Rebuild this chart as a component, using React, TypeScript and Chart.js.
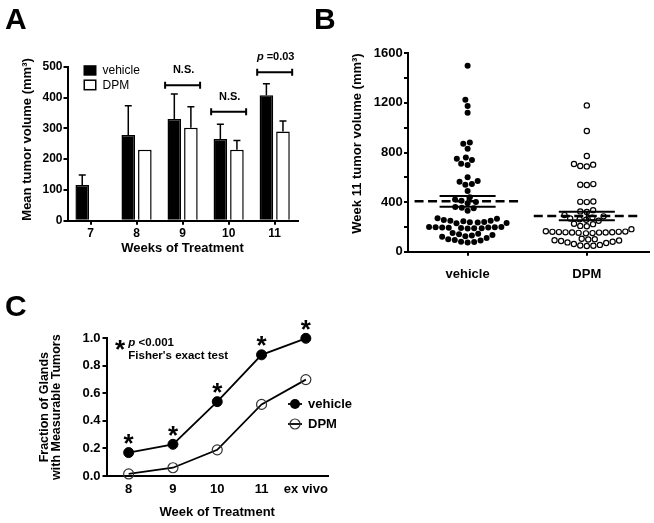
import React, { useEffect, useRef } from "react";
import { Chart, registerables } from "chart.js";

Chart.register(...registerables);

const FONT = "'Liberation Sans', Arial, Helvetica, sans-serif";
Chart.defaults.font.family = FONT;
Chart.defaults.color = "#000";
const black = "#000";

// ---------------- Panel A data ----------------
const weeksA = ["7", "8", "9", "10", "11"];
const seriesNames = ["vehicle", "DPM"];
const vehicleMeanA = [116, 278, 330, 265, 407];
const dpmMeanA = [null, 230, 302, 230, 290];
const vehicleSemA = [32, 95, 81, 48, 38];
const dpmSemA = [null, null, 68, 30, 34];
const sigWeeksA = ["9", "10", "11"];
const sigItalicA = ["", "", "p"];
const sigTextA = ["N.S.", "N.S.", " =0.03"];
const sigBracketYA = [440, 354, 482];

// ---------------- Panel B data ----------------
const groupsB = ["vehicle", "DPM"];
const vehicleWeek11 = [
  1500, 1225, 1175, 1120, 880, 870, 830, 760, 750, 740, 710, 700, 600, 570, 565, 545,
  540, 490, 440, 420, 410, 400, 390, 360, 355, 350, 330, 270, 265, 255, 250, 250, 245,
  240, 238, 235, 232, 230, 200, 200, 198, 197, 195, 195, 193, 192, 190, 190, 188, 150,
  145, 140, 135, 130, 125, 120, 110, 100, 95, 90, 80, 78, 75,
];
const dpmWeek11 = [
  1180, 973, 772, 707, 702, 691, 688, 545, 540, 538, 405, 402, 400, 335, 325, 320, 295,
  285, 275, 268, 262, 258, 250, 225, 222, 208, 205, 182, 165, 162, 160, 160, 158, 157,
  156, 155, 155, 154, 152, 150, 148, 105, 100, 98, 92, 90, 86, 80, 75, 70, 62, 55, 50,
  48, 46,
];
const meanB = [406, 288];
const semB = [43, 34];

// ---------------- Panel C data ----------------
const weeksC = ["8", "9", "10", "11", "ex vivo"];
const vehicleFracC = [0.17, 0.23, 0.54, 0.88, 1.0];
const dpmFracC = [0.015, 0.06, 0.19, 0.52, 0.7];
const noteStarC = "p";
const noteTextC = " <0.001";
const noteTestC = "Fisher's exact test";

function axisStyle(tickLength: number, drawTicks = true) {
  return {
    grid: {
      display: true,
      drawOnChartArea: false,
      drawTicks,
      tickLength,
      color: black,
      lineWidth: 2,
      offset: false,
    },
    border: { display: true, color: black, width: 2 },
  };
}

function drawParts(
  ctx: CanvasRenderingContext2D,
  italic: string,
  rest: string,
  x: number,
  y: number,
  size: number,
  align: "left" | "center"
) {
  const fi = `italic bold ${size}px ${FONT}`;
  const fn = `bold ${size}px ${FONT}`;
  ctx.font = fi;
  const wi = italic ? ctx.measureText(italic).width : 0;
  ctx.font = fn;
  const wr = ctx.measureText(rest).width;
  let sx = align === "center" ? x - (wi + wr) / 2 : x;
  ctx.textAlign = "left";
  ctx.textBaseline = "middle";
  if (italic) {
    ctx.font = fi;
    ctx.fillText(italic, sx, y);
    sx += wi;
  }
  ctx.font = fn;
  ctx.fillText(rest, sx, y);
}

function drawStar(ctx: CanvasRenderingContext2D, x: number, y: number) {
  const size = 26;
  ctx.font = `bold ${size}px ${FONT}`;
  ctx.textAlign = "center";
  ctx.textBaseline = "alphabetic";
  ctx.fillText("*", x, y + 0.585 * size);
}

// ---------------- Panel A ----------------
function makeA(canvas: HTMLCanvasElement) {
  const errPlugin = {
    id: "errA",
    afterDatasetsDraw(chart: any) {
      const ctx = chart.ctx;
      const y = chart.scales.y;
      [vehicleSemA, dpmSemA].forEach((sems, di) => {
        const meta = chart.getDatasetMeta(di);
        meta.data.forEach((bar: any, i: number) => {
          const v = chart.data.datasets[di].data[i];
          const e = sems[i];
          if (v == null || e == null) return;
          const yTop = y.getPixelForValue(v + e);
          const yBase = y.getPixelForValue(v);
          ctx.save();
          ctx.strokeStyle = black;
          ctx.lineWidth = 1.5;
          ctx.beginPath();
          ctx.moveTo(bar.x, yBase);
          ctx.lineTo(bar.x, yTop);
          ctx.moveTo(bar.x - 3.5, yTop);
          ctx.lineTo(bar.x + 3.5, yTop);
          ctx.stroke();
          ctx.restore();
        });
      });
    },
  };
  const annPlugin = {
    id: "annA",
    afterDraw(chart: any) {
      const { ctx, chartArea: ca } = chart;
      const x = chart.scales.x;
      const y = chart.scales.y;
      const catW = x.width / weeksA.length;
      ctx.save();
      ctx.strokeStyle = black;
      ctx.fillStyle = black;
      sigWeeksA.forEach((wk, k) => {
        const i = weeksA.indexOf(wk);
        const cx = x.getPixelForValue(i);
        const by = y.getPixelForValue(sigBracketYA[k]);
        const half = catW * 0.38;
        ctx.lineWidth = 2;
        ctx.beginPath();
        ctx.moveTo(cx - half, by);
        ctx.lineTo(cx + half, by);
        ctx.moveTo(cx - half, by - 3.5);
        ctx.lineTo(cx - half, by + 3.5);
        ctx.moveTo(cx + half, by - 3.5);
        ctx.lineTo(cx + half, by + 3.5);
        ctx.stroke();
        drawParts(ctx, sigItalicA[k], sigTextA[k], cx + 1, by - 15, 11, "center");
      });
      // legend
      const lx = ca.left + 16;
      ctx.fillStyle = black;
      ctx.fillRect(lx, ca.top - 1.5, 13, 10.5);
      ctx.fillStyle = "#fff";
      ctx.fillRect(lx + 0.75, ca.top + 13.5, 11.5, 9.5);
      ctx.lineWidth = 1.5;
      ctx.strokeRect(lx + 0.75, ca.top + 13.5, 11.5, 9.5);
      ctx.fillStyle = black;
      ctx.font = `12px ${FONT}`;
      ctx.textAlign = "left";
      ctx.textBaseline = "middle";
      ctx.fillText(seriesNames[0], ca.left + 35, ca.top + 4);
      ctx.fillText(seriesNames[1], ca.left + 35, ca.top + 19);
      ctx.restore();
    },
  };
  return new Chart(canvas, {
    type: "bar",
    data: {
      labels: weeksA,
      datasets: [
        {
          label: seriesNames[0],
          data: vehicleMeanA,
          backgroundColor: black,
          borderColor: black,
          borderWidth: 1.5,
          categoryPercentage: 0.72,
          barPercentage: 0.82,
        },
        {
          label: seriesNames[1],
          data: dpmMeanA,
          backgroundColor: "#fff",
          borderColor: black,
          borderWidth: 1.5,
          categoryPercentage: 0.72,
          barPercentage: 0.82,
        },
      ],
    },
    options: {
      responsive: false,
      animation: false,
      devicePixelRatio: 1,
      layout: { padding: { left: 0, top: 66.7, right: 32.3, bottom: 0 } },
      plugins: { legend: { display: false }, tooltip: { enabled: false } },
      scales: {
        x: {
          ...axisStyle(4),
          ticks: {
            color: black,
            font: { size: 12, weight: "bold" },
            padding: 1.5,
            maxRotation: 0,
            autoSkip: false,
          },
          title: {
            display: true,
            text: "Weeks of Treatment",
            color: black,
            font: { size: 13, weight: "bold" },
            padding: { top: 0, bottom: 23.9 },
          },
          afterFit: (s: any) => {
            s.height = 59.3;
          },
        },
        y: {
          min: 0,
          max: 500,
          ...axisStyle(4),
          ticks: { stepSize: 100, color: black, font: { size: 12, weight: "bold" }, padding: 1 },
          title: {
            display: true,
            text: "Mean tumor volume (mm³)",
            align: "start",
            color: black,
            font: { size: 13, weight: "bold" },
            padding: { top: 19.2, bottom: 0 },
          },
          afterFit: (s: any) => {
            s.width = 67.5;
          },
        },
      },
    } as any,
    plugins: [errPlugin, annPlugin],
  } as any);
}

// ---------------- Panel B ----------------
const B_W = 324;
const B_H = 290;
const B_YW = 78;
const B_PR = 4;
const B_PT = 53.3;
const B_XH = 38.3;
const B_XMIN = 0.5;
const B_XMAX = 2.52;
const B_YMAX = 1600;

function swarm(values: number[], center: number, xppu: number, yppu: number, d: number) {
  const idx = values.map((_, i) => i).sort((a, b) => values[a] - values[b]);
  const placed: { x: number; y: number }[] = [];
  const out: { x: number; y: number }[] = [];
  let flip = 1;
  for (const i of idx) {
    const py = values[i] * yppu;
    const blocked: [number, number][] = [];
    for (const p of placed) {
      const dy = Math.abs(p.y - py);
      if (dy < d) {
        const w = Math.sqrt(d * d - dy * dy);
        blocked.push([p.x - w, p.x + w]);
      }
    }
    const cands = [0];
    for (const [a, b] of blocked) cands.push(a, b);
    const free = cands.filter((c) => !blocked.some(([a, b]) => c > a + 1e-6 && c < b - 1e-6));
    let best = Infinity;
    for (const c of free) {
      const ac = Math.abs(c);
      const ab = Math.abs(best);
      if (ac < ab - 1e-6 || (Math.abs(ac - ab) <= 1e-6 && Math.sign(c) === flip)) best = c;
    }
    if (Math.abs(best) > 1e-6) flip = -flip;
    placed.push({ x: best, y: py });
    out[i] = { x: center + best / xppu, y: values[i] };
  }
  return out;
}

function makeB(canvas: HTMLCanvasElement) {
  const xppu = (B_W - B_YW - B_PR) / (B_XMAX - B_XMIN);
  const yppu = (B_H - B_PT - B_XH) / B_YMAX;
  const lineDs = (data: { x: number; y: number }[], width: number, dash: number[] = []) => ({
    data,
    showLine: true,
    borderColor: black,
    borderWidth: width,
    borderDash: dash,
    pointRadius: 0,
    order: 0,
    clip: false,
  });
  const summary = groupsB.flatMap((_, gi) => {
    const c = gi + 1;
    const m = meanB[gi];
    const s = semB[gi];
    return [
      lineDs([{ x: c - 0.445, y: m }, { x: c + 0.445, y: m }], 2.5, [9, 4.5]),
      lineDs([{ x: c - 0.235, y: m + s }, { x: c + 0.235, y: m + s }], 2),
      lineDs([{ x: c - 0.235, y: m - s }, { x: c + 0.235, y: m - s }], 2),
      lineDs([{ x: c, y: m - s }, { x: c, y: m + s }], 2),
    ];
  });
  return new Chart(canvas, {
    type: "scatter",
    data: {
      datasets: [
        ...summary,
        {
          label: groupsB[0],
          data: swarm(vehicleWeek11, 1, xppu, yppu, 6.6),
          pointRadius: 3,
          pointBackgroundColor: black,
          pointBorderColor: black,
          pointBorderWidth: 0,
          order: 1,
          clip: false,
        },
        {
          label: groupsB[1],
          data: swarm(dpmWeek11, 2, xppu, yppu, 6.6),
          pointRadius: 2.6,
          pointBackgroundColor: "rgba(255,255,255,0)",
          pointBorderColor: black,
          pointBorderWidth: 1.2,
          order: 1,
          clip: false,
        },
      ],
    },
    options: {
      responsive: false,
      animation: false,
      devicePixelRatio: 1,
      layout: { padding: { left: 0, top: B_PT, right: B_PR, bottom: 0 } },
      plugins: { legend: { display: false }, tooltip: { enabled: false } },
      scales: {
        x: {
          type: "linear",
          min: B_XMIN,
          max: B_XMAX,
          ...axisStyle(4),
          afterBuildTicks: (s: any) => {
            s.ticks = groupsB.map((_, i) => ({ value: i + 1 }));
          },
          ticks: {
            color: black,
            font: { size: 13, weight: "bold" },
            padding: 11,
            maxRotation: 0,
            autoSkip: false,
            callback: (v: any) => groupsB[Math.round(v) - 1] ?? "",
          },
          afterFit: (s: any) => {
            s.height = B_XH;
          },
        },
        y: {
          min: 0,
          max: B_YMAX,
          ...axisStyle(4),
          ticks: {
            stepSize: 200,
            autoSkip: false,
            color: black,
            font: { size: 13, weight: "bold" },
            padding: 1.3,
            callback: (v: any) => (v % 400 === 0 ? String(v) : ""),
          },
          title: {
            display: true,
            text: "Week 11 tumor volume (mm³)",
            align: "end",
            color: black,
            font: { size: 13, weight: "bold" },
            padding: { top: 19.7, bottom: 0 },
          },
          afterFit: (s: any) => {
            s.width = B_YW;
          },
        },
      },
    } as any,
  } as any);
}

// ---------------- Panel C ----------------
function makeC(canvas: HTMLCanvasElement) {
  const annPlugin = {
    id: "annC",
    afterDatasetsDraw(chart: any) {
      const { ctx, chartArea: ca } = chart;
      ctx.save();
      ctx.fillStyle = black;
      ctx.strokeStyle = black;
      const meta = chart.getDatasetMeta(0);
      meta.data.forEach((pt: any) => drawStar(ctx, pt.x, pt.y - 16));
      drawStar(ctx, ca.left + 13.5, ca.top + 4.7);
      drawParts(ctx, noteStarC, noteTextC, ca.left + 21.8, ca.top + 5, 11.5, "left");
      ctx.font = `bold 11.5px ${FONT}`;
      ctx.textAlign = "left";
      ctx.textBaseline = "middle";
      ctx.fillText(noteTestC, ca.left + 21.8, ca.top + 17.7);
      // legend
      const lx = ca.left + 188.5;
      const ly = [ca.top + 65.7, ca.top + 85.7];
      ly.forEach((yy, k) => {
        ctx.lineWidth = 1.8;
        ctx.strokeStyle = black;
        ctx.beginPath();
        ctx.moveTo(lx - 7, yy);
        ctx.lineTo(lx + 7, yy);
        ctx.stroke();
        ctx.beginPath();
        ctx.arc(lx, yy, 5, 0, Math.PI * 2);
        if (k === 0) {
          ctx.fillStyle = black;
          ctx.fill();
        } else {
          ctx.lineWidth = 1.2;
          ctx.strokeStyle = "#333";
          ctx.stroke();
        }
        ctx.fillStyle = black;
        ctx.font = `bold 13px ${FONT}`;
        ctx.textAlign = "left";
        ctx.textBaseline = "middle";
        ctx.fillText(seriesNames[k], lx + 13, yy);
      });
      ctx.restore();
    },
  };
  return new Chart(canvas, {
    type: "line",
    data: {
      labels: weeksC,
      datasets: [
        {
          label: seriesNames[0],
          data: vehicleFracC,
          borderColor: black,
          borderWidth: 1.8,
          pointRadius: 5,
          pointBackgroundColor: black,
          pointBorderColor: black,
          pointBorderWidth: 1,
          tension: 0,
          clip: false,
        },
        {
          label: seriesNames[1],
          data: dpmFracC,
          borderColor: black,
          borderWidth: 1.8,
          pointRadius: 5,
          pointBackgroundColor: "rgba(255,255,255,0)",
          pointBorderColor: "#333",
          pointBorderWidth: 1.2,
          tension: 0,
          clip: false,
        },
      ],
    },
    options: {
      responsive: false,
      animation: false,
      devicePixelRatio: 1,
      layout: { padding: { left: 0, top: 58.3, right: 32, bottom: 0 } },
      plugins: { legend: { display: false }, tooltip: { enabled: false } },
      scales: {
        x: {
          offset: true,
          ...axisStyle(0, false),
          ticks: {
            color: black,
            font: { size: 13, weight: "bold" },
            padding: 5.5,
            maxRotation: 0,
            autoSkip: false,
          },
          title: {
            display: true,
            text: "Week of Treatment",
            color: black,
            font: { size: 13, weight: "bold" },
            padding: { top: 0, bottom: 3.2 },
          },
          afterFit: (s: any) => {
            s.height = 47;
          },
        },
        y: {
          min: 0,
          max: 1,
          ...axisStyle(4),
          ticks: {
            stepSize: 0.2,
            color: black,
            font: { size: 13, weight: "bold" },
            padding: 2,
            callback: (v: any) => Number(v).toFixed(1),
          },
          title: {
            display: true,
            text: ["Fraction of Glands", "with Measurable Tumors"],
            color: black,
            font: { size: 12.5, weight: "bold", lineHeight: 0.94 },
            padding: { top: 39.1, bottom: 0 },
          },
          afterFit: (s: any) => {
            s.width = 106.5;
          },
        },
      },
    } as any,
    plugins: [annPlugin],
  } as any);
}

const letterStyle = (left: number, top: number): React.CSSProperties => ({
  position: "absolute",
  left,
  top,
  margin: 0,
  font: `bold 30px ${FONT}`,
  lineHeight: "30px",
  color: "#000",
});

export default function App() {
  const aRef = useRef<HTMLCanvasElement>(null);
  const bRef = useRef<HTMLCanvasElement>(null);
  const cRef = useRef<HTMLCanvasElement>(null);

  useEffect(() => {
    const charts = [makeA(aRef.current!), makeB(bRef.current!), makeC(cRef.current!)];
    return () => charts.forEach((c) => c.destroy());
  }, []);

  return (
    <div
      style={{
        position: "fixed",
        left: 0,
        top: 0,
        width: 654,
        height: 523,
        background: "#fff",
        overflow: "hidden",
        fontFamily: FONT,
      }}
    >
      <canvas ref={aRef} width={330} height={280} style={{ position: "absolute", left: 0, top: 0 }} />
      <canvas ref={bRef} width={B_W} height={B_H} style={{ position: "absolute", left: 330, top: 0 }} />
      <canvas ref={cRef} width={360} height={243} style={{ position: "absolute", left: 0, top: 280 }} />
      <div style={letterStyle(5, 4.4)}>A</div>
      <div style={letterStyle(314, 4.4)}>B</div>
      <div style={letterStyle(5, 291)}>C</div>
    </div>
  );
}
